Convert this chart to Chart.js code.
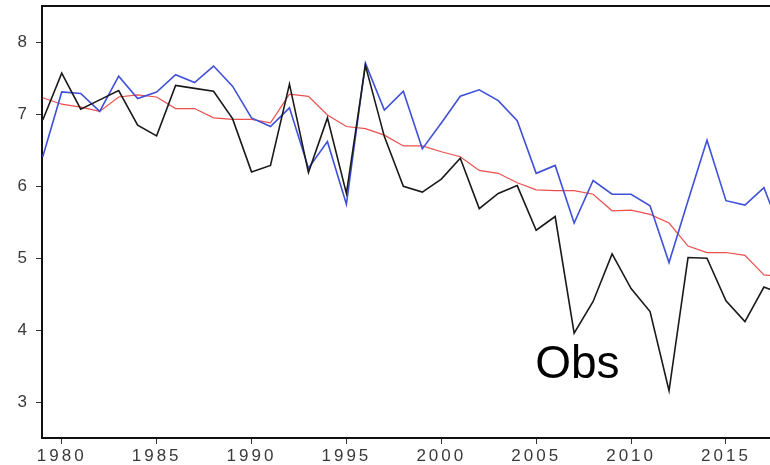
<!DOCTYPE html>
<html>
<head>
<meta charset="utf-8">
<script src="https://cdn.jsdelivr.net/npm/chart.js@4/dist/chart.umd.min.js"></script>
<style>
  html, body { margin: 0; padding: 0; background: #fff; }
  canvas { display: block; }
</style>
</head>
<body>
<canvas id="c" width="770" height="465"></canvas>
<script>
const years = [1979,1980,1981,1982,1983,1984,1985,1986,1987,1988,1989,1990,1991,1992,1993,1994,1995,1996,1997,1998,1999,2000,2001,2002,2003,2004,2005,2006,2007,2008,2009,2010,2011,2012,2013,2014,2015,2016,2017,2018];
const obs = [6.92,7.57,7.07,7.20,7.33,6.85,6.70,7.40,7.36,7.32,6.94,6.20,6.29,7.42,6.19,6.95,5.90,7.68,6.69,6.00,5.92,6.10,6.39,5.69,5.90,6.01,5.39,5.58,3.96,4.40,5.06,4.58,4.26,3.16,5.01,5.00,4.41,4.12,4.60,4.50];
const blueSeries = [6.41,7.31,7.29,7.04,7.53,7.22,7.31,7.55,7.44,7.67,7.39,6.95,6.83,7.09,6.25,6.62,5.75,7.71,7.06,7.32,6.52,6.88,7.25,7.34,7.19,6.91,6.18,6.29,5.49,6.08,5.89,5.89,5.73,4.94,5.80,6.64,5.80,5.74,5.98,5.30];
const redSeries = [7.23,7.14,7.10,7.04,7.24,7.27,7.24,7.08,7.08,6.95,6.93,6.93,6.88,7.28,7.25,6.99,6.83,6.80,6.71,6.56,6.56,6.48,6.41,6.22,6.18,6.05,5.95,5.94,5.94,5.89,5.66,5.67,5.61,5.49,5.17,5.08,5.08,5.04,4.77,4.75];
const xTicks = [1980,1985,1990,1995,2000,2005,2010,2015];
const yTicks = [3,4,5,6,7,8];
const annotationText = "Obs";

const toXY = arr => years.map((yr, i) => ({x: yr, y: arr[i]}));

const frameAndText = {
  id: 'frameAndText',
  beforeDraw(chart) {
    chart.ctx.letterSpacing = '3px';
  },
  afterDatasetsDraw(chart) {
    const ctx = chart.ctx;
    const a = chart.chartArea;
    ctx.save();
    ctx.letterSpacing = '0px';
    ctx.strokeStyle = '#111';
    ctx.lineWidth = 2;
    ctx.beginPath();
    ctx.moveTo(a.left - 1, a.top);
    ctx.lineTo(a.right, a.top);
    ctx.stroke();
    const xs = chart.scales.x, ys = chart.scales.y;
    ctx.fillStyle = '#000';
    ctx.font = '46px "Liberation Sans", Arial, sans-serif';
    ctx.textAlign = 'left';
    ctx.textBaseline = 'alphabetic';
    ctx.fillText(annotationText, xs.getPixelForValue(2004.95), ys.getPixelForValue(3.34));
    ctx.restore();
  }
};

new Chart(document.getElementById('c'), {
  type: 'line',
  data: {
    datasets: [
      { label: 'Obs', data: toXY(obs), borderColor: '#1a1a1a', borderWidth: 1.6, pointRadius: 0, tension: 0, fill: false },
      { label: 'Model', data: toXY(blueSeries), borderColor: '#3f51d9', borderWidth: 1.6, pointRadius: 0, tension: 0, fill: false },
      { label: 'Smooth', data: toXY(redSeries), borderColor: '#ec4e4e', borderWidth: 1.2, pointRadius: 0, tension: 0, fill: false }
    ]
  },
  options: {
    responsive: false,
    animation: false,
    events: [],
    layout: { padding: { top: 6, right: 0, left: 0, bottom: 0 } },
    plugins: { legend: { display: false }, tooltip: { enabled: false } },
    scales: {
      x: {
        type: 'linear',
        min: 1978.96,
        max: 2017.32,
        afterFit(s) { s.height = 27; s.paddingLeft = 0; s.paddingRight = 0; },
        afterBuildTicks(s) { s.ticks = xTicks.map(v => ({ value: v })); },
        border: { display: true, color: '#111', width: 2 },
        grid: { drawOnChartArea: false, drawTicks: true, tickLength: 6, color: '#333', lineWidth: 1 },
        ticks: {
          autoSkip: false, maxRotation: 0, padding: 2,
          color: '#3a3a3a',
          font: { family: '"Liberation Sans", Arial, sans-serif', size: 17 },
          callback: v => String(v)
        }
      },
      y: {
        type: 'linear',
        min: 2.504,
        max: 8.504,
        afterFit(s) { s.width = 42; s.paddingTop = 0; s.paddingBottom = 0; },
        afterBuildTicks(s) { s.ticks = yTicks.map(v => ({ value: v })); },
        border: { display: true, color: '#111', width: 2 },
        grid: { drawOnChartArea: false, drawTicks: true, tickLength: 6, color: '#333', lineWidth: 1 },
        ticks: {
          autoSkip: false, padding: 6,
          color: '#3a3a3a',
          font: { family: '"Liberation Sans", Arial, sans-serif', size: 17 },
          callback: v => String(v)
        }
      }
    }
  },
  plugins: [frameAndText]
});
</script>
</body>
</html>
